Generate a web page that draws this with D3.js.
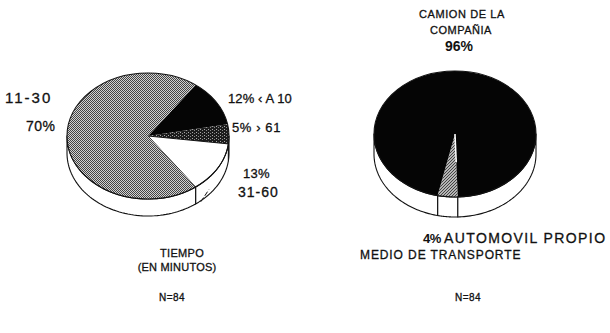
<!DOCTYPE html>
<html><head><meta charset="utf-8">
<script src="https://cdn.jsdelivr.net/npm/d3@7/dist/d3.min.js"></script>
<style>body{margin:0;background:#fff}svg{display:block}text{font-family:"Liberation Sans",Arial,sans-serif;fill:#111}</style>
</head><body><svg id="c" width="610" height="333"></svg>
<script>
// ---- data ----
const timeCategories = ["< A 10", "> 61", "31-60", "11-30"];
const timeValues = [12, 5, 13, 70];
const timeFills = ["black", "dark", "white", "gray"];
const transportCategories = ["AUTOMOVIL PROPIO", "CAMION DE LA COMPAÑIA"];
const transportValues = [4, 96];
const transportFills = ["hatch", "black"];
const sampleN = ["N=84", "N=84"];

const svg = d3.select("#c");
const defs = svg.append("defs");
// patterns
const pg = defs.append("pattern").attr("id","gray").attr("width",2).attr("height",2).attr("patternUnits","userSpaceOnUse");
pg.append("rect").attr("width",2).attr("height",2).attr("fill","#d2d2d2");
pg.append("rect").attr("width",1).attr("height",1).attr("fill","#444");
pg.append("rect").attr("x",1).attr("y",1).attr("width",1).attr("height",1).attr("fill","#444");
const pd = defs.append("pattern").attr("id","dark").attr("width",4).attr("height",3).attr("patternUnits","userSpaceOnUse");
pd.append("rect").attr("width",4).attr("height",3).attr("fill","#1c1c1c");
pd.append("rect").attr("x",0).attr("y",0).attr("width",1).attr("height",1).attr("fill","#aaa");
pd.append("rect").attr("x",2).attr("y",1).attr("width",1).attr("height",1).attr("fill","#888");
const ph = defs.append("pattern").attr("id","hatch").attr("width",3).attr("height",3).attr("patternUnits","userSpaceOnUse");
ph.append("rect").attr("width",3).attr("height",3).attr("fill","#b5b5b5");
ph.append("path").attr("d","M0,3 L3,0").attr("stroke","#444").attr("stroke-width",1);
const fillMap = {black:"#050505", dark:"url(#dark)", white:"#fff", gray:"url(#gray)", hatch:"url(#hatch)"};

const deg = Math.PI/180;
function pie3d(g, cats, vals, fills, opt){
  const {cx, cy, rx, ry, depth, start} = opt;
  const data = cats.map((c,i)=>({c, v: vals[i], f: fills[i]}));
  const arcs = d3.pie().sort(null).value(d=>d.v).startAngle(start).endAngle(start+2*Math.PI)(data);
  const pt = (a, dy=0) => [cx + rx*Math.sin(a), cy - ry*Math.cos(a) + dy];
  const samples = (a0, a1) => d3.range(0, 61).map(i => a0 + (a1-a0)*i/60);
  const line = d3.line();
  arcs.forEach(d => {
    for (let k = -1; k <= 1; k++) {
      const lo = Math.max(d.startAngle, Math.PI/2 + k*2*Math.PI);
      const hi = Math.min(d.endAngle, 3*Math.PI/2 + k*2*Math.PI);
      if (hi > lo) {
        const top = samples(lo, hi).map(a => pt(a));
        const bot = samples(hi, lo).map(a => pt(a, depth));
        g.append("path").attr("d", line(top.concat(bot)) + "Z")
          .attr("fill", "#fff").attr("stroke", "#111").attr("stroke-width", 1.1).attr("stroke-linejoin","round");
      }
    }
  });
  arcs.forEach(d => {
    const pts = [[cx, cy]].concat(samples(d.startAngle, d.endAngle).map(a => pt(a)));
    g.append("path").attr("d", line(pts) + "Z")
      .attr("fill", fillMap[d.data.f]).attr("stroke", d.data.f==="white" ? "#111" : "none").attr("stroke-width", 1);
  });
  g.append("ellipse").attr("cx", cx).attr("cy", cy).attr("rx", rx).attr("ry", ry)
    .attr("fill", "none").attr("stroke", "#111").attr("stroke-width", 1.1);
  return {arcs, pt};
}

// ---- left pie: TIEMPO ----
const gL = svg.append("g");
const L = pie3d(gL, timeCategories, timeValues, timeFills, {cx:148, cy:136, rx:81, ry:63, depth:17, start:36*deg});
const wArc = L.arcs[2];
const lp = L.pt(wArc.endAngle - 2*deg, 17);
gL.append("line").attr("x1", lp[0]+3).attr("y1", lp[1]-1).attr("x2", lp[0]+11).attr("y2", lp[1]-13)
  .attr("stroke", "#111").attr("stroke-width", 1).attr("stroke-dasharray", "5,2");

function txt(g, x, y, s, size, anchor, ls, weight){
  return g.append("text").attr("x", x).attr("y", y).attr("font-size", size)
    .attr("text-anchor", anchor||"start").attr("letter-spacing", ls||0)
    .attr("font-weight", weight||"normal")
    .attr("stroke", "#111").attr("stroke-width", weight==="bold" ? 0 : 0.3).text(s);
}
const tL = svg.append("g");
txt(tL, 5, 103, timeCategories[3], 15, "start", 2);
txt(tL, 26, 131, timeValues[3] + "%", 14, "start", 0.5);
txt(tL, 228, 103, timeValues[0] + "% ‹ A 10", 13, "start", 0.1);
txt(tL, 232, 132, timeValues[1] + "% › 61", 13, "start", 0.6);
txt(tL, 243, 178, timeValues[2] + "%", 13, "start", 0.3);
txt(tL, 238, 197, timeCategories[2], 14, "start", 1);
txt(tL, 182, 257, "TIEMPO", 11, "middle", 0.3);
txt(tL, 177, 271, "(EN MINUTOS)", 11, "middle", 0.2);
txt(tL, 172, 301, sampleN[0], 10, "middle", 0.5);

// ---- right pie: MEDIO DE TRANSPORTE ----
const gR = svg.append("g");
const R = pie3d(gR, transportCategories, transportValues, transportFills, {cx:455, cy:134, rx:81, ry:63, depth:20, start:178*deg});
const e0 = R.pt(R.arcs[0].startAngle);
gR.append("line").attr("x1", 455).attr("y1", 134).attr("x2", 455 + (e0[0]-455)*0.45).attr("y2", 134 + (e0[1]-134)*0.45)
  .attr("stroke", "#fff").attr("stroke-width", 1.5);

const tR = svg.append("g");
txt(tR, 462, 18, "CAMION DE LA", 11, "middle", 0.6);
txt(tR, 461, 34, "COMPAÑIA", 11, "middle", 0.5);
txt(tR, 459, 51, transportValues[1] + "%", 14, "middle", 0, "bold");
txt(tR, 423, 243, transportValues[0] + "%", 13, "start", -0.5, "bold");
txt(tR, 444, 243, transportCategories[0], 14, "start", 1.4);
txt(tR, 360, 259, "MEDIO DE TRANSPORTE", 12, "start", 0.9);
txt(tR, 468, 301, sampleN[1], 10, "middle", 0.5);
</script></body></html>
